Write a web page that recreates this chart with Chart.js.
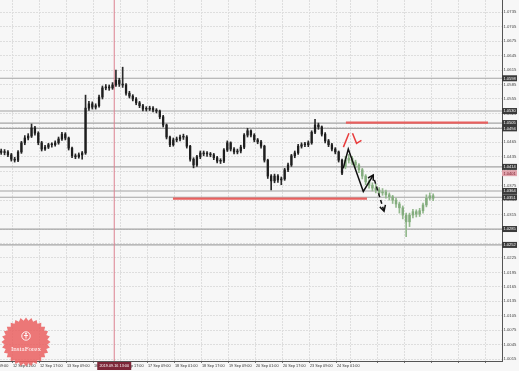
<!DOCTYPE html>
<html>
<head>
<title>EUR H1 chart</title>
<script src="https://cdn.jsdelivr.net/npm/chart.js"></script>
<style>
body { margin: 0; background: #f6f6f6; }
#wrap { width: 519px; height: 371px; }
</style>
</head>
<body>
<div id="wrap"><canvas id="myChart" width="519" height="371"></canvas></div>
<script>
// time axis: bar index, 0 = 12 Sep 01:00 (H1 bars, weekend skipped)
const xMin = -7.7, xMax = 289.8;
const xTickBars = [-16, 0, 16, 32, 48, 64, 80, 96, 112, 128, 144, 160, 176, 192, 200, 216, 232, 248, 264, 280];
const xTickLabels = ['11 Sep 09:00', '12 Sep 01:00', '12 Sep 17:00', '13 Sep 09:00', '16 Sep 01:00', '16 Sep 17:00',
  '17 Sep 09:00', '18 Sep 01:00', '18 Sep 17:00', '19 Sep 09:00', '20 Sep 01:00', '20 Sep 17:00',
  '23 Sep 09:00', '24 Sep 01:00', '', '', '', '', '', ''];
const crossBar = 60;
const crossLabel = '2019.09.16 13:00';

// price axis
const yMin = 1.0011, yMax = 1.07605;
const yTickValues = [1.0015, 1.0045, 1.0075, 1.0105, 1.0135, 1.0165, 1.0195, 1.0225, 1.0255, 1.0285, 1.0315,
  1.0345, 1.0375, 1.0405, 1.0435, 1.0465, 1.0495, 1.0525, 1.0555, 1.0585, 1.0615, 1.0645, 1.0675, 1.0705, 1.0735];

// price candles, one every 2 bars starting at bar -7
const firstBar = -7, barStep = 2;
const candleOpen = [1.0447, 1.0444, 1.0445, 1.0439, 1.0430, 1.0428, 1.0445, 1.0464, 1.0474, 1.0478,
  1.0495, 1.0484, 1.0464, 1.0451, 1.0455, 1.0460, 1.0460, 1.0464, 1.0472, 1.0482,
  1.0474, 1.0453, 1.0437, 1.0435, 1.0439, 1.0443, 1.0536, 1.0545, 1.0538, 1.0541,
  1.0559, 1.0578, 1.0580, 1.0578, 1.0584, 1.0594, 1.0586, 1.0584, 1.0567, 1.0561,
  1.0555, 1.0547, 1.0541, 1.0534, 1.0534, 1.0536, 1.0532, 1.0530, 1.0518, 1.0501,
  1.0476, 1.0460, 1.0470, 1.0472, 1.0476, 1.0476, 1.0457, 1.0430, 1.0418, 1.0435,
  1.0443, 1.0441, 1.0441, 1.0439, 1.0433, 1.0426, 1.0426, 1.0449, 1.0464, 1.0451,
  1.0445, 1.0447, 1.0455, 1.0480, 1.0489, 1.0480, 1.0470, 1.0466, 1.0457, 1.0428,
  1.0395, 1.0385, 1.0395, 1.0387, 1.0389, 1.0408, 1.0418, 1.0437, 1.0443, 1.0457,
  1.0460, 1.0460, 1.0464, 1.0486, 1.0501, 1.0497, 1.0482, 1.0468, 1.0460, 1.0451,
  1.0445, 1.0428];
const candleHigh = [1.0451, 1.0450, 1.0448, 1.0442, 1.0434, 1.0448, 1.0467, 1.0479, 1.0483, 1.0503,
  1.0498, 1.0487, 1.0467, 1.0459, 1.0463, 1.0464, 1.0468, 1.0476, 1.0486, 1.0485,
  1.0476, 1.0455, 1.0441, 1.0443, 1.0446, 1.0563, 1.0550, 1.0549, 1.0545, 1.0563,
  1.0582, 1.0585, 1.0584, 1.0589, 1.0615, 1.0598, 1.0621, 1.0587, 1.0571, 1.0564,
  1.0558, 1.0550, 1.0544, 1.0539, 1.0540, 1.0539, 1.0535, 1.0532, 1.0521, 1.0503,
  1.0478, 1.0474, 1.0476, 1.0480, 1.0482, 1.0479, 1.0459, 1.0433, 1.0438, 1.0447,
  1.0447, 1.0446, 1.0444, 1.0442, 1.0436, 1.0431, 1.0452, 1.0468, 1.0466, 1.0454,
  1.0451, 1.0459, 1.0483, 1.0494, 1.0491, 1.0483, 1.0473, 1.0469, 1.0459, 1.0430,
  1.0398, 1.0399, 1.0398, 1.0393, 1.0411, 1.0422, 1.0440, 1.0447, 1.0461, 1.0464,
  1.0465, 1.0468, 1.0489, 1.0513, 1.0505, 1.0499, 1.0485, 1.0471, 1.0463, 1.0454,
  1.0447, 1.0430];
const candleLow = [1.0440, 1.0439, 1.0435, 1.0426, 1.0424, 1.0425, 1.0442, 1.0460, 1.0470, 1.0475,
  1.0480, 1.0460, 1.0447, 1.0448, 1.0452, 1.0455, 1.0457, 1.0461, 1.0469, 1.0470,
  1.0449, 1.0433, 1.0431, 1.0432, 1.0430, 1.0440, 1.0531, 1.0534, 1.0534, 1.0538,
  1.0555, 1.0574, 1.0573, 1.0575, 1.0581, 1.0581, 1.0579, 1.0563, 1.0557, 1.0551,
  1.0543, 1.0537, 1.0530, 1.0530, 1.0531, 1.0528, 1.0526, 1.0514, 1.0497, 1.0472,
  1.0456, 1.0457, 1.0466, 1.0468, 1.0471, 1.0453, 1.0426, 1.0412, 1.0415, 1.0431,
  1.0437, 1.0436, 1.0435, 1.0429, 1.0422, 1.0421, 1.0423, 1.0446, 1.0447, 1.0441,
  1.0441, 1.0443, 1.0452, 1.0476, 1.0476, 1.0466, 1.0462, 1.0453, 1.0424, 1.0390,
  1.0366, 1.0381, 1.0382, 1.0377, 1.0386, 1.0404, 1.0415, 1.0433, 1.0440, 1.0453,
  1.0456, 1.0456, 1.0461, 1.0483, 1.0492, 1.0478, 1.0464, 1.0456, 1.0447, 1.0441,
  1.0424, 1.0398];
const candleClose = [1.0444, 1.0445, 1.0439, 1.0430, 1.0428, 1.0445, 1.0464, 1.0474, 1.0478, 1.0495,
  1.0484, 1.0464, 1.0451, 1.0455, 1.0460, 1.0460, 1.0464, 1.0472, 1.0482, 1.0474,
  1.0453, 1.0437, 1.0435, 1.0439, 1.0443, 1.0536, 1.0545, 1.0538, 1.0541, 1.0559,
  1.0578, 1.0580, 1.0578, 1.0584, 1.0594, 1.0586, 1.0584, 1.0567, 1.0561, 1.0555,
  1.0547, 1.0541, 1.0534, 1.0534, 1.0536, 1.0532, 1.0530, 1.0518, 1.0501, 1.0476,
  1.0460, 1.0470, 1.0472, 1.0476, 1.0476, 1.0457, 1.0430, 1.0418, 1.0435, 1.0443,
  1.0441, 1.0441, 1.0439, 1.0433, 1.0426, 1.0426, 1.0449, 1.0464, 1.0451, 1.0445,
  1.0447, 1.0455, 1.0480, 1.0489, 1.0480, 1.0470, 1.0466, 1.0457, 1.0428, 1.0395,
  1.0385, 1.0395, 1.0387, 1.0389, 1.0408, 1.0418, 1.0437, 1.0443, 1.0457, 1.0460,
  1.0460, 1.0464, 1.0486, 1.0501, 1.0497, 1.0482, 1.0468, 1.0460, 1.0451, 1.0445,
  1.0428, 1.0401];
const lastPrice = 1.0401;

// forecast candles (green), one every 2 bars starting at bar 197
const fcFirstBar = 197;
const fcOpen = [1.0415, 1.0428, 1.0432, 1.0424, 1.0418, 1.0408, 1.0395, 1.0383, 1.0376, 1.0370,
  1.0366, 1.0360, 1.0362, 1.0356, 1.0352, 1.0345, 1.0337, 1.0329, 1.0314, 1.0300,
  1.0314, 1.0321, 1.0316, 1.0323, 1.0335, 1.0349, 1.0354];
const fcHigh = [1.0436, 1.0440, 1.0436, 1.0428, 1.0421, 1.0411, 1.0398, 1.0387, 1.0381, 1.0378,
  1.0371, 1.0369, 1.0366, 1.0360, 1.0355, 1.0349, 1.0341, 1.0333, 1.0318, 1.0318,
  1.0326, 1.0325, 1.0328, 1.0339, 1.0356, 1.0360, 1.0358];
const fcLow = [1.0410, 1.0422, 1.0418, 1.0411, 1.0402, 1.0389, 1.0377, 1.0370, 1.0364, 1.0360,
  1.0354, 1.0355, 1.0349, 1.0345, 1.0338, 1.0330, 1.0318, 1.0306, 1.0269, 1.0290,
  1.0308, 1.0310, 1.0311, 1.0318, 1.0331, 1.0345, 1.0344];
const fcClose = [1.0428, 1.0432, 1.0424, 1.0418, 1.0408, 1.0395, 1.0383, 1.0376, 1.0370, 1.0366,
  1.0360, 1.0362, 1.0356, 1.0352, 1.0345, 1.0337, 1.0329, 1.0314, 1.0300, 1.0314,
  1.0321, 1.0316, 1.0323, 1.0335, 1.0349, 1.0354, 1.0349];

// horizontal support / resistance levels
const levelPrices = [1.0598, 1.0530, 1.0505, 1.0494, 1.0414, 1.0364, 1.0351, 1.0285, 1.0252];
const redLevelPrices = [1.0506, 1.0348];
const redLevelFrom = [197.3, 94.8];
const redLevelTo = [281.5, 209.8];

// drawn forecast paths
const arrowBars = [195.7, 198.7, 207.6, 213.5];
const arrowPrices = [1.0411, 1.0451, 1.0363, 1.0397];
const arrowHeadBars = [210.4, 213.5, 213.5];
const arrowHeadPrices = [1.0391, 1.0397, 1.0385];
const dashBars = [214.2, 219.9];
const dashPrices = [1.0387, 1.0322];
const dashHeadBars = [217.4, 219.9, 220.7];
const dashHeadPrices = [1.0331, 1.0322, 1.0335];
const redUpBars = [195.8, 199.1];
const redUpPrices = [1.0455, 1.0484];
const redDownBars = [201.2, 203.6, 206.5];
const redDownPrices = [1.0484, 1.0463, 1.0469];

const fam = '"Liberation Sans", Arial, sans-serif';

const candleBars = candleClose.map((_, i) => firstBar + i * barStep);
const fcBars = fcClose.map((_, i) => fcFirstBar + i * barStep);

function floatBars(bars, a, b) {
  return bars.map((x, i) => ({x: x, y: [a[i], b[i]]}));
}
function line(xs, ys, color, width, dash, order) {
  return {
    type: 'line',
    data: xs.map((x, i) => ({x: x, y: ys[i]})),
    borderColor: color, borderWidth: width, borderDash: dash || [],
    pointRadius: 0, fill: false, tension: 0, order: order
  };
}
function bars(data, color, thick, order) {
  return {type: 'bar', data: data, backgroundColor: color, borderWidth: 0,
    barThickness: thick, grouped: false, minBarLength: 0.8, order: order};
}

const datasets = [];
levelPrices.forEach(p => datasets.push(line([xMin, xMax], [p, p], '#a4a4a4', 1.2, null, 20)));
datasets.push(line([crossBar, crossBar], [yMin, yMax], '#dc8190', 1, null, 19));
redLevelPrices.forEach((p, i) => datasets.push(line([redLevelFrom[i], redLevelTo[i]], [p, p], '#e8605f', 2.2, null, 15)));
datasets.push(bars(floatBars(candleBars, candleLow, candleHigh), '#2a2a2a', 1, 10));
datasets.push(bars(floatBars(candleBars, candleOpen, candleClose), '#1e1e1e', 1.6, 9));
datasets.push(bars(floatBars(fcBars, fcLow, fcHigh), '#93b88d', 1, 8));
datasets.push(bars(floatBars(fcBars, fcOpen, fcClose), '#83ac7d', 1.8, 7));
datasets.push(line(arrowBars, arrowPrices, '#111', 1.5, null, 2));
datasets.push(line(arrowHeadBars, arrowHeadPrices, '#111', 1.5, null, 2));
datasets.push(line(dashBars, dashPrices, '#111', 1.5, [4, 3], 2));
datasets.push(line(dashHeadBars, dashHeadPrices, '#111', 1.5, null, 2));
datasets.push(line(redUpBars, redUpPrices, '#e83c3c', 1.5, null, 1));
datasets.push(line(redDownBars, redDownPrices, '#e83c3c', 1.5, null, 1));

const overlay = {
  id: 'overlay',
  beforeDraw(chart) {
    const ctx = chart.ctx;
    ctx.save();
    ctx.fillStyle = '#f7f7f7';
    ctx.fillRect(0, 0, chart.width, chart.height);
    ctx.restore();
  },
  afterDraw(chart) {
    const ctx = chart.ctx, a = chart.chartArea, x = chart.scales.x, y = chart.scales.y;
    ctx.save();
    ctx.font = '4px ' + fam;
    ctx.textBaseline = 'middle';
    ctx.textAlign = 'left';
    levelPrices.forEach(p => {
      const py = y.getPixelForValue(p);
      ctx.fillStyle = '#3a3a3a';
      ctx.fillRect(a.right, py - 3, 15, 6);
      ctx.fillStyle = '#fff';
      ctx.fillText(p.toFixed(4), a.right + 1.5, py + 0.3);
    });
    const lp = y.getPixelForValue(lastPrice);
    ctx.fillStyle = '#e0a3ac';
    ctx.fillRect(a.right, lp - 3, 15, 6);
    ctx.fillStyle = '#7a1f2d';
    ctx.fillText(lastPrice.toFixed(4), a.right + 1.5, lp + 0.3);

    // crosshair time label
    const cx = x.getPixelForValue(crossBar);
    ctx.fillStyle = '#7d2738';
    ctx.fillRect(cx - 17, a.bottom + 1, 34, 8);
    ctx.fillStyle = '#fff';
    ctx.textAlign = 'center';
    ctx.font = '3.8px ' + fam;
    ctx.fillText(crossLabel, cx, a.bottom + 5);

    // InstaForex badge
    const lx = 26, ly = 342, spikes = 28;
    ctx.beginPath();
    for (let i = 0; i < spikes * 2; i++) {
      const r = i % 2 ? 21.5 : 24.5;
      const ang = i * Math.PI / spikes;
      ctx.lineTo(lx + r * Math.cos(ang), ly + r * Math.sin(ang));
    }
    ctx.closePath();
    ctx.fillStyle = 'rgba(234, 96, 96, 0.85)';
    ctx.fill();
    ctx.strokeStyle = '#fff';
    ctx.lineWidth = 0.9;
    ctx.beginPath();
    ctx.arc(lx, ly - 6, 4.2, 0, Math.PI * 2);
    ctx.stroke();
    ctx.beginPath();
    ctx.arc(lx, ly - 8.3, 0.9, 0, Math.PI * 2);
    ctx.fillStyle = '#fff';
    ctx.fill();
    ctx.beginPath();
    ctx.moveTo(lx, ly - 7.3); ctx.lineTo(lx, ly - 3.5);
    ctx.moveTo(lx - 2, ly - 6.5); ctx.lineTo(lx + 2, ly - 6.5);
    ctx.stroke();
    ctx.font = '7px "Liberation Serif", serif';
    ctx.fillText('InstaForex', lx, ly + 7);
    ctx.restore();
  }
};

const ctx = document.getElementById('myChart').getContext('2d');
new Chart(ctx, {
  type: 'bar',
  data: {datasets: datasets},
  options: {
    responsive: false,
    animation: false,
    devicePixelRatio: 1,
    layout: {padding: 0},
    plugins: {legend: {display: false}, tooltip: {enabled: false}},
    events: [],
    scales: {
      x: {
        type: 'linear', min: xMin, max: xMax, offset: false,
        afterBuildTicks: s => { s.ticks = xTickBars.map(v => ({value: v})); },
        afterFit: s => { s.height = 10; s.paddingLeft = 0; s.paddingRight = 0; },
        ticks: {
          autoSkip: false, maxRotation: 0, minRotation: 0, align: 'start', padding: 1,
          font: {size: 3.8, family: fam}, color: '#333',
          callback: (v, i) => xTickLabels[i]
        },
        grid: {color: '#dedede', lineWidth: 1, drawTicks: true, tickLength: 2, tickColor: '#777', offset: false},
        border: {color: '#555', width: 1, dash: [2, 1]}
      },
      y: {
        position: 'right', min: yMin, max: yMax,
        afterBuildTicks: s => { s.ticks = yTickValues.map(v => ({value: v})); },
        afterFit: s => { s.width = 17; s.paddingTop = 0; s.paddingBottom = 0; },
        ticks: {
          autoSkip: false, padding: 1.5, font: {size: 4.2, family: fam}, color: '#444',
          callback: v => v.toFixed(4)
        },
        grid: {color: '#dedede', lineWidth: 1, drawTicks: false},
        border: {color: '#555', width: 1, dash: [2, 1]}
      }
    }
  },
  plugins: [overlay]
});
</script>
</body>
</html>
